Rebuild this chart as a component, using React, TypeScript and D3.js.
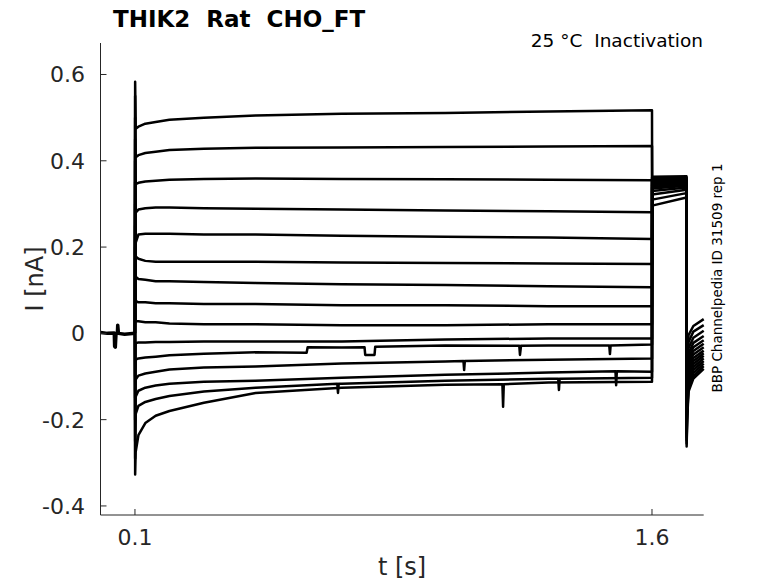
import * as d3 from "d3";

const W = 778;
const H = 583;

// holding level before the voltage step (t < 0.1 s), same for every sweep
const holdTimes = [0, 0.02, 0.04, 0.041, 0.043, 0.045, 0.049, 0.05, 0.052, 0.07, 0.1];
const holdCurrents = [0.002, 0.0, 0.001, -0.03, -0.032, 0.0, 0.0, 0.019, 0.0, -0.002, 0.0];

// conditioning step 0.1 - 1.6 s, one row per sweep (top to bottom)
const stepTimes = [0.102, 0.11, 0.13, 0.16, 0.2, 0.3, 0.45, 0.7, 1.0, 1.3, 1.6];
const stepCurrents = [
  [0.474, 0.479, 0.486, 0.49, 0.495, 0.5, 0.505, 0.509, 0.511, 0.514, 0.517],
  [0.408, 0.413, 0.418, 0.421, 0.425, 0.428, 0.43, 0.431, 0.432, 0.433, 0.434],
  [0.346, 0.349, 0.352, 0.354, 0.356, 0.358, 0.359, 0.358, 0.357, 0.356, 0.355],
  [0.28, 0.287, 0.29, 0.292, 0.292, 0.29, 0.289, 0.287, 0.285, 0.283, 0.281],
  [0.21, 0.229, 0.231, 0.231, 0.231, 0.229, 0.229, 0.226, 0.224, 0.222, 0.219],
  [0.178, 0.173, 0.168, 0.166, 0.166, 0.166, 0.166, 0.164, 0.163, 0.162, 0.161],
  [0.131, 0.126, 0.124, 0.121, 0.121, 0.119, 0.117, 0.114, 0.112, 0.109, 0.107],
  [0.075, 0.072, 0.072, 0.07, 0.07, 0.068, 0.068, 0.065, 0.065, 0.063, 0.063],
  [0.028, 0.028, 0.026, 0.026, 0.023, 0.021, 0.021, 0.019, 0.019, 0.021, 0.021],
  [-0.023, -0.021, -0.021, -0.02, -0.02, -0.019, -0.019, -0.019, -0.014, -0.012, -0.012],
  [-0.061, -0.058, -0.056, -0.054, -0.051, -0.047, -0.044, -0.033, -0.028, -0.028, -0.026],
  [-0.107, -0.098, -0.093, -0.089, -0.084, -0.079, -0.077, -0.07, -0.065, -0.061, -0.058],
  [-0.147, -0.133, -0.126, -0.121, -0.117, -0.112, -0.11, -0.103, -0.096, -0.091, -0.089],
  [-0.187, -0.168, -0.159, -0.152, -0.145, -0.135, -0.126, -0.117, -0.11, -0.105, -0.103],
  [-0.275, -0.236, -0.208, -0.191, -0.18, -0.161, -0.138, -0.126, -0.119, -0.114, -0.112],
];

// capacitive peak at step onset
const onsetPeaks = [0.583, 0.55, 0.5, 0.45, 0.4, 0.35, 0.3, 0.25, 0.2, -0.1, -0.15, -0.2, -0.25, -0.29, -0.327];

// single channel openings / glitches: [sweep, t, I]
const stepEvents: [number, number, number][] = [
  [10, 0.598, -0.045], [10, 0.601, -0.032],
  [10, 0.766, -0.032], [10, 0.768, -0.05], [10, 0.795, -0.05], [10, 0.797, -0.031],
  [10, 1.215, -0.029], [10, 1.217, -0.05], [10, 1.22, -0.029],
  [10, 1.476, -0.028], [10, 1.478, -0.048], [10, 1.48, -0.028],
  [11, 1.053, -0.064], [11, 1.055, -0.085], [11, 1.057, -0.064],
  [13, 0.687, -0.117], [13, 0.689, -0.138], [13, 0.691, -0.117],
  [14, 1.166, -0.118], [14, 1.168, -0.17], [14, 1.17, -0.118],
  [13, 1.328, -0.105], [13, 1.33, -0.131], [13, 1.332, -0.105],
  [12, 1.494, -0.088], [12, 1.496, -0.12], [12, 1.498, -0.088],
];

// test pulse 1.6 - 1.7 s
const testStart = [0.296, 0.31, 0.322, 0.33, 0.336, 0.34, 0.344, 0.347, 0.35, 0.352, 0.355, 0.357, 0.359, 0.361, 0.363];
const testEnd = [0.315, 0.325, 0.333, 0.338, 0.342, 0.345, 0.348, 0.35, 0.352, 0.354, 0.356, 0.358, 0.36, 0.362, 0.364];

// transient at end of test pulse
const offsetPeaks = [-0.262, -0.255, -0.248, -0.24, -0.232, -0.224, -0.216, -0.208, -0.2, -0.19, -0.18, -0.17, -0.16, -0.15, -0.14];

// tail after test pulse
const tailTimes = [1.702, 1.706, 1.72, 1.75];
const tailCurrents = [
  [-0.2, -0.135, -0.105, -0.082],
  [-0.19, -0.128, -0.099, -0.076],
  [-0.18, -0.12, -0.092, -0.07],
  [-0.17, -0.112, -0.085, -0.064],
  [-0.16, -0.104, -0.078, -0.058],
  [-0.15, -0.096, -0.071, -0.052],
  [-0.14, -0.088, -0.064, -0.046],
  [-0.13, -0.08, -0.057, -0.04],
  [-0.12, -0.072, -0.049, -0.032],
  [-0.11, -0.064, -0.041, -0.024],
  [-0.1, -0.056, -0.032, -0.016],
  [-0.09, -0.046, -0.022, -0.006],
  [-0.08, -0.034, -0.01, 0.006],
  [-0.065, -0.02, 0.004, 0.019],
  [-0.05, -0.004, 0.017, 0.033],
];

const yTicks = [0.6, 0.4, 0.2, 0, -0.2, -0.4];
const xTicks = [0.1, 1.6];

const axisColor = "#262626";
const font = "DejaVu Sans, sans-serif";

const left = 100.5;
const right = 703.7;
const top = 43;
const bottom = 515;

function sweepPoints(i: number): [number, number][] {
  const step: [number, number][] = stepTimes.map((t, k) => [t, stepCurrents[i][k]]);
  stepEvents.filter((e) => e[0] === i).forEach((e) => step.push([e[1], e[2]]));
  step.sort((a, b) => a[0] - b[0]);
  return [
    [0.1, 0],
    [0.1005, onsetPeaks[i]],
    ...step,
    [1.6005, testStart[i]],
    [1.7, testEnd[i]],
    [1.7005, offsetPeaks[i]],
    ...tailTimes.map((t, k) => [t, tailCurrents[i][k]] as [number, number]),
  ];
}

export default function App() {
  const x = d3.scaleLinear().domain([0, 1.75]).range([left, right]);
  const y = d3.scaleLinear().domain([-0.421, 0.673]).range([bottom, top]);

  const line = d3
    .line<[number, number]>()
    .x((d) => x(d[0]))
    .y((d) => y(d[1]));

  const holdPts = holdTimes.map((t, k) => [t, holdCurrents[k]] as [number, number]);

  return (
    <svg
      width={W}
      height={H}
      style={{ position: "absolute", left: 0, top: 0, background: "#fff" }}
      fontFamily={font}
    >
      {/* traces */}
      <g fill="none" stroke="#000" strokeLinejoin="round">
        <path d={line(holdPts) ?? ""} strokeWidth={3.5} />
        {stepCurrents.map((_, i) => (
          <path key={i} d={line(sweepPoints(i)) ?? ""} strokeWidth={2.5} />
        ))}
      </g>

      {/* axes */}
      <g stroke={axisColor} strokeWidth={1} fill="none">
        <line x1={left} x2={left} y1={top} y2={bottom} />
        <line x1={left} x2={right} y1={bottom} y2={bottom} />
        {yTicks.map((v) => (
          <line key={v} x1={left} x2={left + 6} y1={y(v)} y2={y(v)} />
        ))}
        {xTicks.map((v) => (
          <line key={v} x1={x(v)} x2={x(v)} y1={bottom} y2={bottom - 6} />
        ))}
      </g>

      <g fill={axisColor} fontSize={22}>
        {yTicks.map((v) => (
          <text key={v} x={85} y={y(v)} dy="0.36em" textAnchor="end">
            {v === 0 ? "0" : v.toFixed(1)}
          </text>
        ))}
        {xTicks.map((v) => (
          <text key={v} x={x(v)} y={545} textAnchor="middle">
            {v.toFixed(1)}
          </text>
        ))}
      </g>

      <text x={(left + right) / 2} y={575} textAnchor="middle" fontSize={24} fill={axisColor}>
        t [s]
      </text>
      <text
        transform={`translate(43,${(top + bottom) / 2}) rotate(-90)`}
        textAnchor="middle"
        fontSize={24}
        fill={axisColor}
      >
        I [nA]
      </text>

      <text x={113} y={27} fontSize={23} fontWeight="bold" fill="#000" xmlSpace="preserve">
        THIK2  Rat  CHO_FT
      </text>
      <text x={703} y={47} fontSize={18.5} textAnchor="end" fill="#000" xmlSpace="preserve">
        25 °C  Inactivation
      </text>
      <text
        transform={`translate(722,278) rotate(-90)`}
        textAnchor="middle"
        fontSize={13.5}
        fill="#000"
      >
        BBP Channelpedia ID 31509 rep 1
      </text>
    </svg>
  );
}
